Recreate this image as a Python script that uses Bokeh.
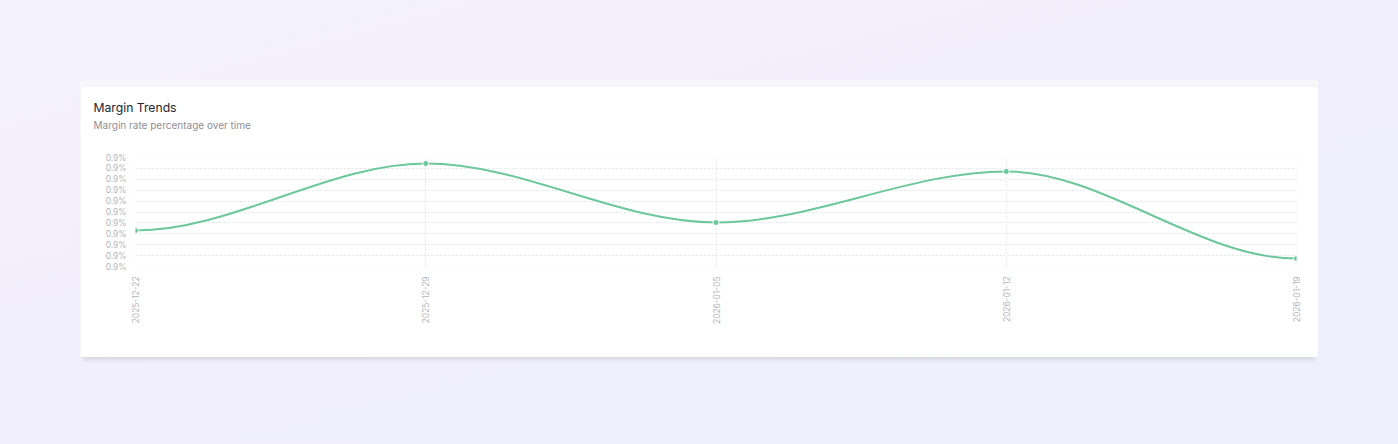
import math
from jinja2 import Template
from bokeh.plotting import figure
from bokeh.models import (ColumnDataSource, FixedTicker, PrintfTickFormatter,
                          Range1d, Title)
from bokeh.embed import file_html
from bokeh.resources import INLINE
from bokeh.core.templates import FILE

# ---- data ----
dates = ["2025-12-22", "2025-12-29", "2026-01-05", "2026-01-12", "2026-01-19"]
margin_rate = [0.8864, 0.9356, 0.8923, 0.9298, 0.8658]
y_ticks = [0.860, 0.868, 0.876, 0.884, 0.892, 0.900, 0.908, 0.916, 0.924, 0.932, 0.940]

title_text = "Margin Trends"
subtitle_text = "Margin rate percentage over time"

GREEN = "#6cc79b"
FONT = "Inter"

xs = list(range(len(dates)))

p = figure(width=1238, height=271, output_backend="svg", toolbar_location=None,
           x_range=Range1d(xs[0], xs[-1]), y_range=Range1d(y_ticks[0], y_ticks[-1]),
           min_border_left=55, min_border_right=22, min_border_top=71,
           min_border_bottom=91, border_fill_color="white",
           background_fill_color="white", outline_line_color=None)

# titles (spacer keeps the subtitle away from the plot area)
p.title = Title(text=title_text, align="left", offset=-42, text_font=FONT,
                text_font_size="12.2px", text_font_style="normal",
                text_color="#24232f", standoff=3)
p.add_layout(Title(text=" ", align="left", text_font=FONT,
                   text_font_size="1px", text_color="white", standoff=24), "above")
p.add_layout(Title(text=subtitle_text, align="left", offset=-42, text_font=FONT,
                   text_font_size="10px", text_font_style="normal",
                   text_color="#8f8e99", standoff=0), "above")

# smooth curve: cubic bezier segments with horizontal tangents at each point
x0 = xs[:-1]
x1 = xs[1:]
y0 = margin_rate[:-1]
y1 = margin_rate[1:]
cx0 = [a + (b - a) / 3 for a, b in zip(x0, x1)]
cx1 = [b - (b - a) / 3 for a, b in zip(x0, x1)]
seg = ColumnDataSource(dict(x0=x0, y0=y0, x1=x1, y1=y1, cx0=cx0, cy0=y0, cx1=cx1, cy1=y1))
p.bezier(x0="x0", y0="y0", x1="x1", y1="y1", cx0="cx0", cy0="cy0", cx1="cx1", cy1="cy1",
         source=seg, line_color=GREEN, line_width=2)

pts = ColumnDataSource(dict(x=xs, y=margin_rate))
p.scatter("x", "y", source=pts, size=6, fill_color=GREEN, line_color="white",
          line_width=1)

# axes
p.xaxis.ticker = FixedTicker(ticks=xs)
p.xaxis.major_label_overrides = {i: d for i, d in zip(xs, dates)}
p.xaxis.major_label_orientation = math.pi / 2
p.yaxis.ticker = FixedTicker(ticks=y_ticks)
p.yaxis.formatter = PrintfTickFormatter(format="%.1f%%")
for ax in (p.xaxis, p.yaxis):
    ax.axis_line_color = None
    ax.major_tick_line_color = None
    ax.minor_tick_line_color = None
    ax.major_label_text_font = FONT
    ax.major_label_text_font_size = "8.4px"
    ax.major_label_text_color = "#b5b4bd"
p.yaxis.major_label_standoff = 3
p.xaxis.major_label_standoff = 4

p.xgrid.grid_line_color = "#e3e3ea"
p.xgrid.grid_line_dash = "2 2"
p.ygrid.grid_line_color = "#e3e3ea"
p.ygrid.grid_line_dash = "2 2"

tmpl = Template("""{% extends base %}
{% block postamble %}
<style>
html, body { height: 100% !important; }
body {
  margin: 0 !important; padding: 86px 0 0 80px !important; box-sizing: border-box !important;
  background: linear-gradient(165deg, #f3f1fb 0%, #f2effc 45%, #eef0fc 100%) !important;
}
body > div { display: block !important; width: 1238px;
  box-shadow: 0 -6px 0 #f7f7f9, 0 6px 4px -3px rgba(0,0,0,0.10); }
</style>
{% endblock %}""")

open("out.html", "w").write(file_html(p, INLINE, template=tmpl,
                                      template_variables={"base": FILE}))
